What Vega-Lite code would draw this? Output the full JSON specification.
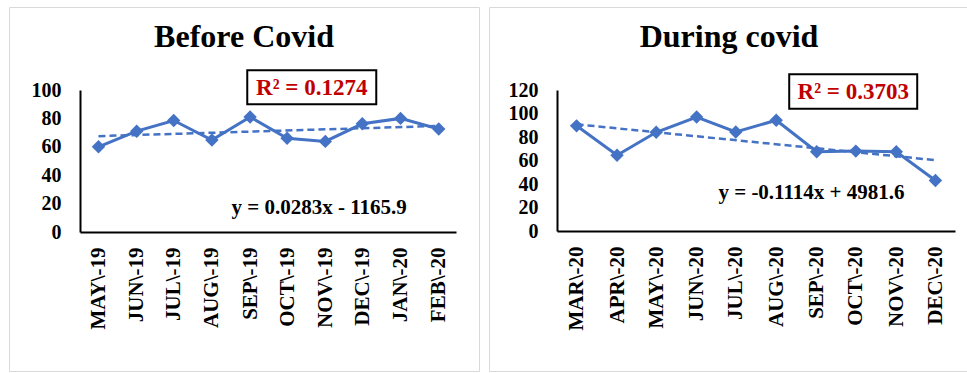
{
  "$schema": "https://vega.github.io/schema/vega-lite/v6.json",
  "background": "white",
  "padding": {"left": 8, "top": 6, "right": 0, "bottom": 0},
  "spacing": 8,
  "config": {
    "view": {"stroke": "#d9d9d9", "strokeWidth": 1},
    "font": "Liberation Serif",
    "axis": {"grid": false, "ticks": false, "domainColor": "#000000", "domainWidth": 2, "labelFont": "Liberation Serif", "labelFontWeight": "bold", "labelColor": "#000000"},
    "title": {"font": "Liberation Serif", "fontWeight": "bold", "fontSize": 32, "color": "#000000", "anchor": "middle", "baseline": "alphabetic", "offset": -47}
  },
  "hconcat": [
    {
      "width": 470,
      "height": 364,
      "title": {"text": "Before Covid"},
      "encoding": {
        "x": {"field": "month", "type": "temporal", "title": null,
          "scale": {"type": "utc", "domain": [{"year": 2019, "month": 4, "date": 16, "utc": true}, {"year": 2020, "month": 2, "date": 15, "utc": true}], "range": [71, 447]},
          "axis": {"orient": "bottom", "offset": -139, "tickCount": {"interval": "month", "step": 1}, "labelExpr": "upper(utcFormat(datum.value, '%b\\\\-%y'))", "labelAngle": -90, "labelAlign": "right", "labelBaseline": "middle", "labelPadding": 15, "labelFontSize": 21, "labelFlush": false, "labelOverlap": false, "labelBound": false}},
        "y": {"field": "value", "type": "quantitative", "title": null,
          "scale": {"domain": [0, 100], "range": [225, 83], "nice": false, "zero": true},
          "axis": {"offset": -71, "values": [0, 20, 40, 60, 80, 100], "labelFontSize": 20, "labelPadding": 19}}
      },
      "layer": [
        {
          "data": {"values": [
            {"month": "2019-05-01", "value": 60},
            {"month": "2019-06-01", "value": 71},
            {"month": "2019-07-01", "value": 78.5},
            {"month": "2019-08-01", "value": 64.8},
            {"month": "2019-09-01", "value": 81},
            {"month": "2019-10-01", "value": 66},
            {"month": "2019-11-01", "value": 63.8},
            {"month": "2019-12-01", "value": 76.2},
            {"month": "2020-01-01", "value": 80},
            {"month": "2020-02-01", "value": 72.5}
          ]},
          "mark": {"type": "line", "color": "#4472C4", "strokeWidth": 3, "point": {"shape": "diamond", "size": 180, "filled": true, "color": "#4472C4", "opacity": 1}}
        },
        {
          "data": {"values": [
            {"month": "2019-05-01", "value": 67.5},
            {"month": "2020-02-01", "value": 74.7}
          ]},
          "mark": {"type": "line", "color": "#4472C4", "strokeWidth": 2.5, "strokeDash": [7, 4]}
        },
        {
          "data": {"values": [{"month": "2019-10-21", "value": 102}]},
          "mark": {"type": "point", "shape": "M-1,-0.264L1,-0.264L1,0.264L-1,0.264Z", "size": 16641, "filled": true, "fill": "#ffffff", "stroke": "#000000", "strokeWidth": 2, "opacity": 1}
        },
        {
          "data": {"values": [{"month": "2019-10-21", "value": 96.5, "label": "R² = 0.1274"}]},
          "mark": {"type": "text", "color": "#C00000", "font": "Liberation Serif", "fontSize": 23, "fontWeight": "bold", "align": "center", "baseline": "alphabetic"},
          "encoding": {"text": {"field": "label"}}
        },
        {
          "data": {"values": [{"month": "2019-10-27", "value": 12.7, "label": "y = 0.0283x - 1165.9"}]},
          "mark": {"type": "text", "color": "#000000", "font": "Liberation Serif", "fontSize": 21, "fontWeight": "bold", "align": "center", "baseline": "alphabetic"},
          "encoding": {"text": {"field": "label"}}
        }
      ]
    },
    {
      "width": 480,
      "height": 364,
      "title": {"text": "During covid"},
      "encoding": {
        "x": {"field": "month", "type": "temporal", "title": null,
          "scale": {"type": "utc", "domain": [{"year": 2020, "month": 2, "date": 15, "utc": true}, {"year": 2020, "month": 12, "date": 16, "utc": true}], "range": [68, 466]},
          "axis": {"orient": "bottom", "offset": -140, "tickCount": {"interval": "month", "step": 1}, "labelExpr": "upper(utcFormat(datum.value, '%b\\\\-%y'))", "labelAngle": -90, "labelAlign": "right", "labelBaseline": "middle", "labelPadding": 15, "labelFontSize": 21, "labelFlush": false, "labelOverlap": false, "labelBound": false}},
        "y": {"field": "value", "type": "quantitative", "title": null,
          "scale": {"domain": [0, 120], "range": [224, 83], "nice": false, "zero": true},
          "axis": {"offset": -68, "values": [0, 20, 40, 60, 80, 100, 120], "labelFontSize": 20, "labelPadding": 19}}
      },
      "layer": [
        {
          "data": {"values": [
            {"month": "2020-03-01", "value": 89.5},
            {"month": "2020-04-01", "value": 64.5},
            {"month": "2020-05-01", "value": 84},
            {"month": "2020-06-01", "value": 97},
            {"month": "2020-07-01", "value": 84.3},
            {"month": "2020-08-01", "value": 94.3},
            {"month": "2020-09-01", "value": 67.5},
            {"month": "2020-10-01", "value": 68},
            {"month": "2020-11-01", "value": 67.5},
            {"month": "2020-12-01", "value": 43}
          ]},
          "mark": {"type": "line", "color": "#4472C4", "strokeWidth": 3, "point": {"shape": "diamond", "size": 180, "filled": true, "color": "#4472C4", "opacity": 1}}
        },
        {
          "data": {"values": [
            {"month": "2020-03-01", "value": 90.8},
            {"month": "2020-12-01", "value": 60.3}
          ]},
          "mark": {"type": "line", "color": "#4472C4", "strokeWidth": 2.5, "strokeDash": [7, 4]}
        },
        {
          "data": {"values": [{"month": "2020-09-29", "value": 118.7}]},
          "mark": {"type": "point", "shape": "M-1,-0.27L1,-0.27L1,0.27L-1,0.27Z", "size": 16384, "filled": true, "fill": "#ffffff", "stroke": "#000000", "strokeWidth": 2, "opacity": 1}
        },
        {
          "data": {"values": [{"month": "2020-09-29", "value": 112.5, "label": "R² = 0.3703"}]},
          "mark": {"type": "text", "color": "#C00000", "font": "Liberation Serif", "fontSize": 23, "fontWeight": "bold", "align": "center", "baseline": "alphabetic"},
          "encoding": {"text": {"field": "label"}}
        },
        {
          "data": {"values": [{"month": "2020-08-28", "value": 27.2, "label": "y = -0.1114x + 4981.6"}]},
          "mark": {"type": "text", "color": "#000000", "font": "Liberation Serif", "fontSize": 21, "fontWeight": "bold", "align": "center", "baseline": "alphabetic"},
          "encoding": {"text": {"field": "label"}}
        }
      ]
    }
  ]
}
